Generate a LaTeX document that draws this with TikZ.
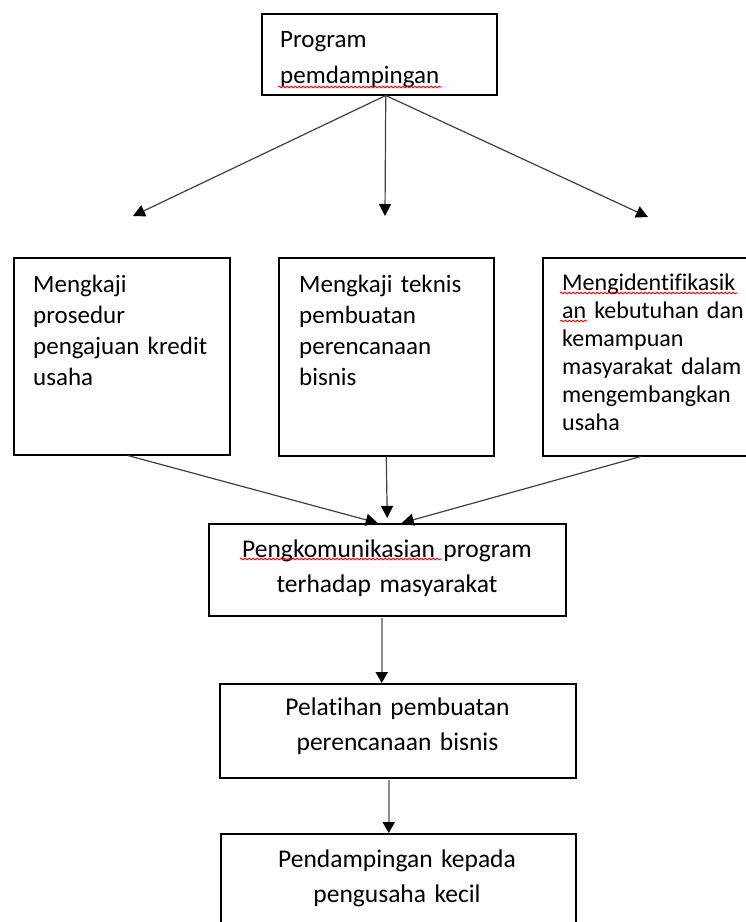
\documentclass[tikz,border=0pt]{standalone}
\usepackage{fontspec}
\setmainfont{Carlito}[Ligatures={NoCommon,NoRequired,NoContextual}]
\usetikzlibrary{arrows.meta,calc,decorations.pathmorphing}
\begin{document}
\begin{tikzpicture}[x=1pt,y=-1pt,
  box/.style={draw=black, line width=1.5pt, inner sep=0pt, anchor=north west},
  txt/.style={inner sep=0pt, font=\fontsize{25}{31}\selectfont, align=left, anchor=base west},
  ctxt/.style={inner sep=0pt, font=\fontsize{25.5}{35}\selectfont, align=center, anchor=base, text width=340pt},
  conn/.style={draw=black!75, line width=1.2pt, -{Triangle[length=12pt,width=12pt,color=black]}},
  gconn/.style={draw=black!45, line width=2.2pt, -{Triangle[length=11pt,width=12pt,color=black]}},
  squig/.style={red, line width=0.8pt, decorate, decoration={snake, amplitude=0.9pt, segment length=4pt}}
]
\clip (0,0) rectangle (746,922);
\fill[white] (0,0) rectangle (746,922);

% boxes
\node[box, minimum width=235pt, minimum height=81pt] (top) at (261,13) {};
\node[box, minimum width=216pt, minimum height=197pt] (b1) at (13,257) {};
\node[box, minimum width=215pt, minimum height=198pt] (b2) at (278,257) {};
\node[box, minimum width=218pt, minimum height=198pt] (b3) at (542,257) {};
\node[box, minimum width=357pt, minimum height=92pt] (comm) at (208,523) {};
\node[box, minimum width=356pt, minimum height=94pt] (pel) at (219,683) {};
\node[box, minimum width=355pt, minimum height=150pt] (pend) at (220,833) {};

% texts
\node[txt, text width=210pt, font=\fontsize{25}{36}\selectfont] (ttop) at (280,47) {Program\\pemdampingan};
\node[txt, text width=195pt] (tb1) at (33,292) {Mengkaji\\prosedur\\pengajuan kredit\\usaha};
\node[txt, text width=190pt] (tb2) at (299,292) {Mengkaji teknis\\pembuatan\\perencanaan\\bisnis};
\node[txt, text width=200pt, font=\fontsize{24}{28}\selectfont] (tb3) at (562,290) {Mengidentifikasik\\an kebutuhan dan\\kemampuan\\masyarakat dalam\\mengembangkan\\usaha};
\node[ctxt] (tcomm) at (387,557) {Pengkomunikasian program\\terhadap masyarakat};
\node[ctxt] (tpel) at (397.5,715) {Pelatihan pembuatan\\perencanaan bisnis};
\node[ctxt] (tpend) at (397,867) {Pendampingan kepada\\pengusaha kecil};

% spell-check underlines
\draw[squig] (278,87) -- (442,87);
\draw[squig] (560,293) -- (738,293);
\draw[squig] (560,321) -- (587,321);
\draw[squig] (240,559) -- (442,559);

% connectors
\coordinate (a1) at (133,216);
\coordinate (a2) at (385,216);
\coordinate (a3) at (648,217);
\coordinate (ts) at ($(top.south)+(6.5,0)$);
\draw[conn] (ts) -- (a1);
\draw[conn] (ts) -- (a2);
\draw[conn] (ts) -- (a3);

\draw[conn] ($(b1.south)+(6,0)$) -- ($(comm.north)+(-9.5,0)$);
\draw[conn] (b2.south) -- ($(comm.north)+(0,-5)$);
\draw[conn] ($(b3.south)+(-11,0)$) -- ($(comm.north)+(14.5,0)$);

\coordinate (c1) at ($(comm.south)+(-5.5,1)$);
\coordinate (c2) at ($(pel.south)+(-9,1)$);
\draw[gconn] (c1) -- (c1 |- pel.north);
\draw[gconn] (c2) -- (c2 |- pend.north);
\end{tikzpicture}
\end{document}
